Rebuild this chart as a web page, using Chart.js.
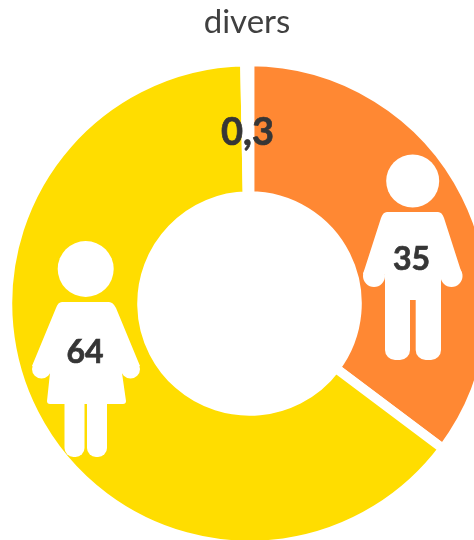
<!DOCTYPE html>
<html>
<head>
<meta charset="utf-8">
<script src="https://cdn.jsdelivr.net/npm/chart.js@4"></script>
<style>
  html, body { margin: 0; padding: 0; background: #fff; overflow: hidden; }
  #wrap { position: relative; width: 474px; height: 540px; overflow: hidden; }
  #myChart { position: absolute; left: 0; top: 0; }
</style>
</head>
<body>
<div id="wrap"><canvas id="myChart" width="499" height="607"></canvas></div>
<script>
const categories = ['homme', 'femme', 'divers'];
const values = [35, 64, 0.3];
const colors = ['#FF8833', '#FFDD00', '#FFFFFF'];
const valueLabels = ['35', '64', '0,3'];
const titleText = 'divers';

function circle(ctx, x, y, r) {
    ctx.beginPath();
    ctx.arc(x, y, r, 0, Math.PI * 2);
    ctx.fill();
}

function leg(ctx, x0, x1, top, bottom, r) {
    ctx.beginPath();
    ctx.roundRect(x0, top, x1 - x0, bottom - top, [0, 0, r, r]);
    ctx.fill();
}

function drawMan(ctx) {
    circle(ctx, 412.7, 181, 26.5);
    ctx.beginPath();
    ctx.moveTo(387, 212);
    ctx.lineTo(438, 212);
    ctx.quadraticCurveTo(442, 212, 444, 218);
    ctx.lineTo(462, 274);
    ctx.lineTo(441, 274);
    ctx.lineTo(441, 300);
    ctx.lineTo(385, 300);
    ctx.lineTo(385, 274);
    ctx.lineTo(363, 274);
    ctx.lineTo(381, 218);
    ctx.quadraticCurveTo(383, 212, 387, 212);
    ctx.fill();
    circle(ctx, 374, 276, 11);
    circle(ctx, 451.5, 276, 11);
    leg(ctx, 385, 410, 296, 360, 10);
    leg(ctx, 415.7, 441, 296, 360, 10);
}

function drawWoman(ctx) {
    circle(ctx, 85.7, 269, 28);
    ctx.beginPath();
    ctx.moveTo(62, 302);
    ctx.lineTo(109, 302);
    ctx.quadraticCurveTo(113, 302, 116, 308);
    ctx.lineTo(140, 366);
    ctx.lineTo(122, 373);
    ctx.lineTo(126, 401);
    ctx.quadraticCurveTo(126, 404, 123, 404);
    ctx.lineTo(50, 404);
    ctx.quadraticCurveTo(47, 404, 47, 401);
    ctx.lineTo(50, 373);
    ctx.lineTo(32, 366);
    ctx.lineTo(56, 308);
    ctx.quadraticCurveTo(58, 302, 62, 302);
    ctx.fill();
    circle(ctx, 41.5, 369, 9.5);
    circle(ctx, 130.5, 369, 9.5);
    leg(ctx, 64.5, 84.5, 400, 457, 9);
    leg(ctx, 87, 107, 400, 457, 9);
}

function boldText(ctx, text, x, y) {
    ctx.fillText(text, x, y);
    ctx.strokeText(text, x, y);
}

// Silhouettes et textes par-dessus l'anneau
const overlay = {
    id: 'overlay',
    afterDraw(chart) {
        const ctx = chart.ctx;
        ctx.save();
        ctx.fillStyle = '#FFFFFF';
        drawMan(ctx);
        drawWoman(ctx);

        ctx.fillStyle = '#404040';
        ctx.textAlign = 'center';
        ctx.textBaseline = 'middle';
        ctx.font = '33px Lato';
        ctx.fillText(titleText, 247, 22);

        ctx.fillStyle = '#363636';
        ctx.strokeStyle = '#363636';
        ctx.lineWidth = 0.7;
        ctx.font = 'bold 32px Lato';
        boldText(ctx, valueLabels[0], 411.5, 259.5);
        boldText(ctx, valueLabels[1], 85, 352.5);
        ctx.font = 'bold 38px Lato';
        boldText(ctx, valueLabels[2], 247.5, 133);
        ctx.restore();
    }
};

new Chart(document.getElementById('myChart').getContext('2d'), {
    type: 'doughnut',
    data: {
        labels: categories,
        datasets: [{
            data: values,
            backgroundColor: colors,
            borderColor: '#FFFFFF',
            borderWidth: 9.5
        }]
    },
    options: {
        responsive: false,
        animation: false,
        radius: 242,
        cutout: 108.75,
        plugins: {
            legend: { display: false },
            tooltip: { enabled: false }
        }
    },
    plugins: [overlay]
});
</script>
</body>
</html>
